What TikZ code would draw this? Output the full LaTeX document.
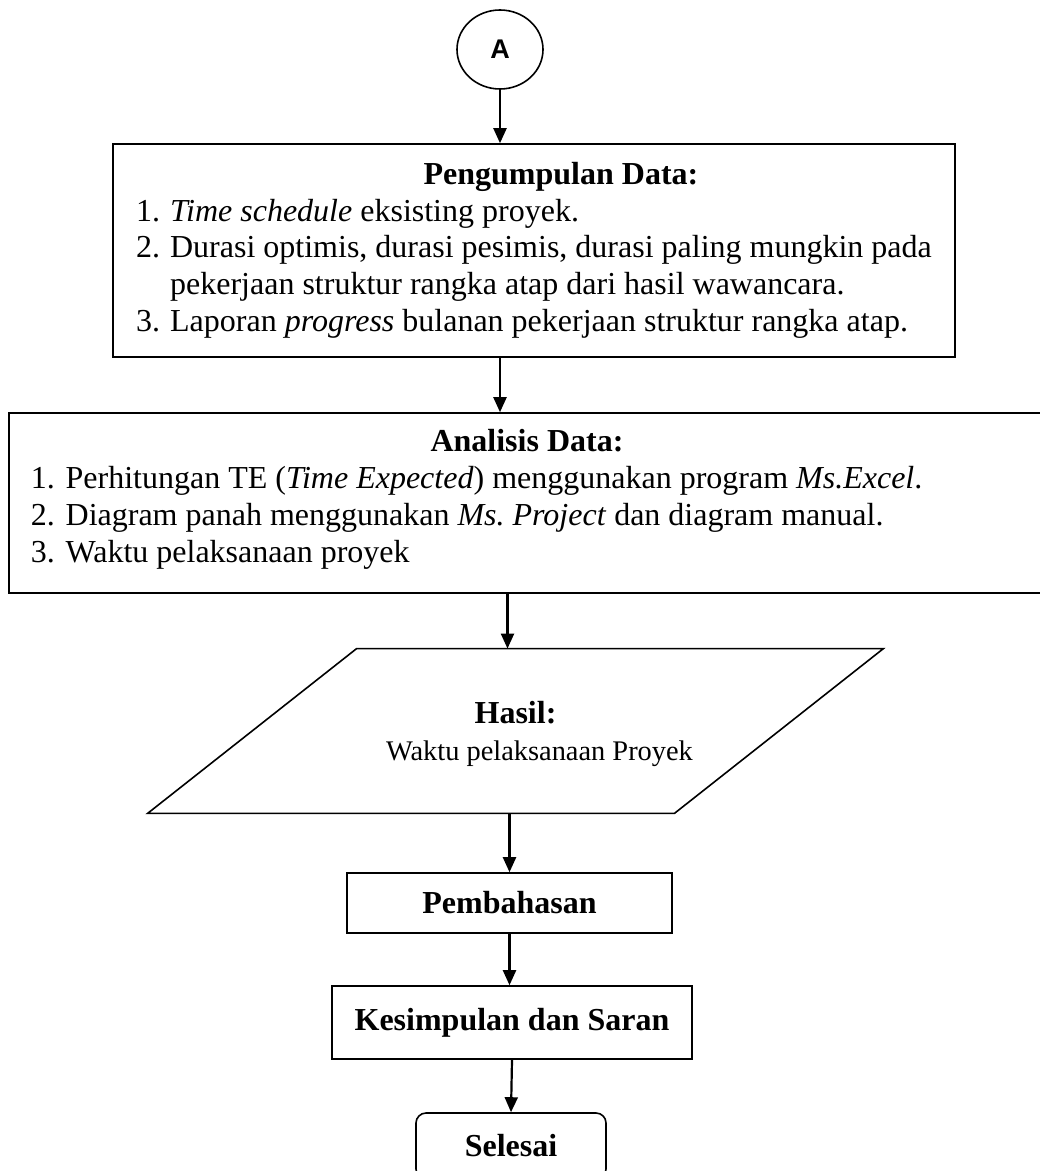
\documentclass[tikz,border=0pt]{standalone}
\usepackage{fontspec}
\setmainfont{Liberation Serif}
\newfontfamily\arialfont{Liberation Sans}
\usepackage{tikz}
\usetikzlibrary{shapes.geometric, arrows.meta, positioning, calc}

\begin{document}
\begin{tikzpicture}[
    x=0.5pt, y=-0.5pt,
    font=\fontsize{16}{18.4}\selectfont,
    flowbox/.style={rectangle, draw=black, line width=0.8pt, inner xsep=8pt, inner ysep=0pt},
    connector/.style={-{Triangle[length=7.5pt, width=6.5pt]}, line width=1.1pt}
]
    \useasboundingbox (0,0) rectangle (1039,1171);

    \node[ellipse, draw, line width=0.8pt, minimum width=43pt, minimum height=39.5pt, inner sep=0pt,
          font=\arialfont\bfseries\fontsize{13.5}{15}\selectfont] (A) at (500,49.5) {A};

    \node[flowbox, minimum width=421pt, minimum height=106.5pt] (data) at (534,250.5) {%
        \begin{tabular}{@{}r@{\hspace{5pt}}l@{}}
        \multicolumn{2}{c}{\hspace*{27pt}\textbf{Pengumpulan Data:}}\\
        1. & \textit{Time schedule} eksisting proyek.\\
        2. & Durasi optimis, durasi pesimis, durasi paling mungkin pada\\
           & pekerjaan struktur rangka atap dari hasil wawancara.\\
        3. & Laporan \textit{progress} bulanan pekerjaan struktur rangka atap.
        \end{tabular}};

    \node[flowbox, inner xsep=11pt, minimum height=90pt] (analysis) at (527,503) {%
        \begin{tabular}{@{}p{496pt}@{}}
        \multicolumn{1}{c}{\textbf{Analisis Data:}}\\
        1. Perhitungan TE (\textit{Time Expected}) menggunakan program \textit{Ms.Excel}.\\
        2. Diagram panah menggunakan \textit{Ms.\ Project} dan diagram manual.\\
        3. Waktu pelaksanaan proyek\\[3.5pt]
        \end{tabular}};

    % parallelogram: text node plus slanted outline
    \node[minimum width=263pt, minimum height=82pt, inner sep=0pt, align=center] (hasil) at (515.5,734)
        {\textbf{Hasil:}\\\hspace*{24pt}{\fontsize{14.2}{16}\selectfont Waktu pelaksanaan Proyek}};
    \draw[line width=0.8pt] ([xshift=52.25pt,yshift=1.5pt]hasil.north west) -- ([xshift=52.25pt,yshift=1.5pt]hasil.north east)
        -- ([xshift=-52.25pt,yshift=1.5pt]hasil.south east) -- ([xshift=-52.25pt,yshift=1.5pt]hasil.south west) -- cycle;

    \node[flowbox, minimum width=162.5pt, minimum height=30pt] (pemb) at (509.5,903) {\textbf{Pembahasan}};
    \node[flowbox, minimum width=180pt, minimum height=36.5pt] (kes) at (512,1022.5) {\textbf{Kesimpulan dan Saran}};
    \node[flowbox, rounded corners=5pt, minimum width=95pt, minimum height=33pt] (selesai) at (511,1146) {\textbf{Selesai}};

    \draw[connector] (A) -- (A |- data.north);
    \draw[connector] (A |- data.south) -- (A |- analysis.north);
    \draw[connector] ([xshift=-4pt]hasil.north |- analysis.south) -- ([xshift=-4pt,yshift=1.5pt]hasil.north);
    \draw[connector] ([yshift=1.5pt]pemb.north |- hasil.south) -- (pemb.north);
    \draw[connector] (pemb.south) -- (pemb.south |- kes.north);
    \draw[connector] (kes.south) -- (selesai.north);
\end{tikzpicture}
\end{document}
